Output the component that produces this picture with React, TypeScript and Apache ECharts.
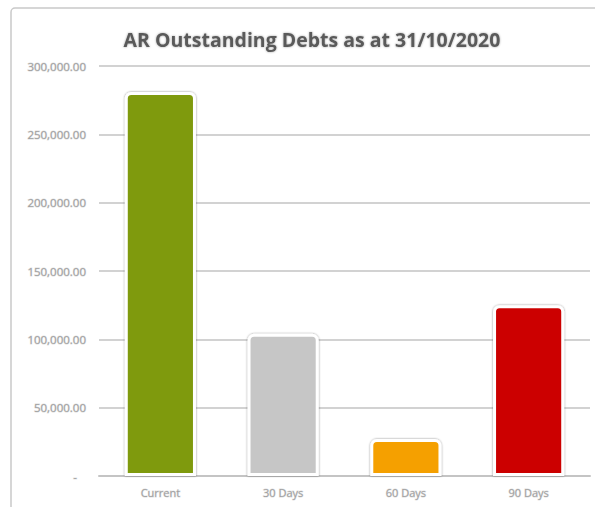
import React, { useEffect, useRef } from "react";
import * as echarts from "echarts";

const categories = ["Current", "30 Days", "60 Days", "90 Days"];
const values = [281000, 104000, 27000, 125000];
const barColors = ["#7f9a0e", "#c6c6c6", "#f5a000", "#cc0000"];
const yTicks = { min: 0, max: 300000, interval: 50000 };
const titleText = "AR Outstanding Debts as at 31/10/2020";

export default function App() {
  const ref = useRef<HTMLDivElement>(null);
  useEffect(() => {
    if (!ref.current) return;
    const chart = echarts.init(ref.current, null, { renderer: "svg" });
    chart.setOption({
      animation: false,
      backgroundColor: "#ffffff",
      title: {
        text: titleText,
        left: 307,
        textAlign: "center",
        top: 24,
        textStyle: {
          fontFamily: "Open Sans",
          fontWeight: "bold",
          fontSize: 19.5,
          color: "#5a5a5a",
          textShadowColor: "rgba(0,0,0,0.35)",
          textShadowBlur: 2,
        },
      },
      graphic: [
        {
          type: "rect",
          shape: { x: 11, y: 8, width: 620, height: 520, r: 4 },
          style: { fill: "none", stroke: "#c9c9c9", lineWidth: 1.5 },
          silent: true,
          z: -1,
        },
      ],
      grid: { left: 99, right: 5, top: 66, bottom: 31 },
      xAxis: {
        type: "category",
        data: categories,
        axisLine: { show: true, lineStyle: { color: "#c4c4c4", width: 2 } },
        axisTick: { show: false },
        axisLabel: {
          margin: 11,
          fontFamily: "Open Sans",
          fontSize: 11,
          color: "#a0a0a0",
          textBorderColor: "#e2e2e2",
          textBorderWidth: 1,
        },
      },
      yAxis: {
        type: "value",
        min: yTicks.min,
        max: yTicks.max,
        interval: yTicks.interval,
        axisLine: { show: false },
        axisTick: { show: false },
        splitLine: { lineStyle: { color: "#d2d2d2", width: 2 } },
        axisLabel: {
          margin: 13,
          fontFamily: "Open Sans",
          fontSize: 11.5,
          color: "#a0a0a0",
          textBorderColor: "#e2e2e2",
          textBorderWidth: 1,
          formatter: (v: number) =>
            v === 0
              ? "-   "
              : v.toLocaleString("en-US", {
                  minimumFractionDigits: 2,
                  maximumFractionDigits: 2,
                }),
        },
      },
      series: [
        {
          type: "bar",
          barWidth: "58%",
          data: values.map((v, i) => ({
            value: v,
            itemStyle: {
              color: barColors[i],
              borderColor: "#ffffff",
              borderWidth: 3,
              borderRadius: [5, 5, 0, 0],
              shadowColor: "rgba(0,0,0,0.45)",
              shadowBlur: 2,
            },
          })),
        },
      ],
    });
    return () => chart.dispose();
  }, []);
  return (
    <div
      ref={ref}
      style={{ position: "fixed", left: 0, top: 0, width: 595, height: 507 }}
    />
  );
}
